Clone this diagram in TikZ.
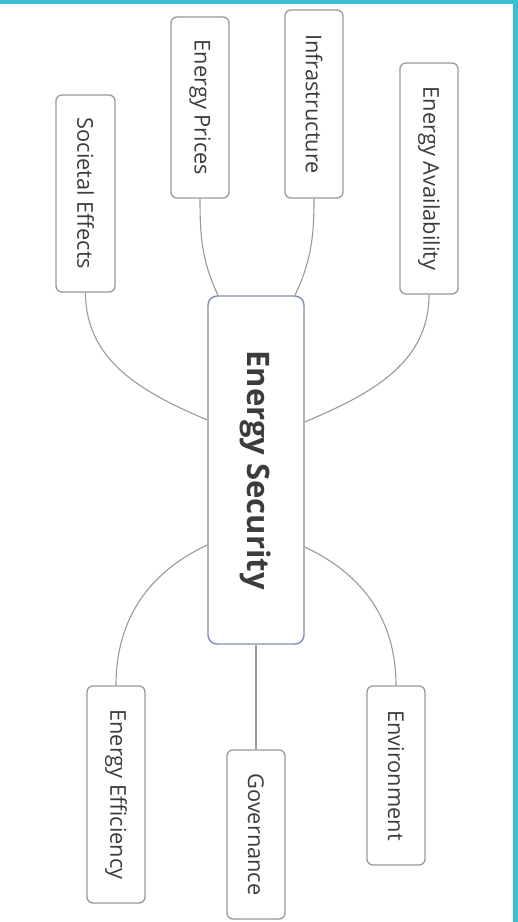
\documentclass[tikz,border=0pt]{standalone}
\usepackage{fontspec}
\setmainfont{Open Sans}
\usetikzlibrary{calc}
\definecolor{frame}{HTML}{3BBFD6}
\definecolor{leafline}{HTML}{9C9893}
\definecolor{hubline}{HTML}{7F8FB3}
\definecolor{wire}{HTML}{9A9A9A}
\definecolor{ink}{HTML}{3C3C3C}
\tikzset{
  leaf/.style={draw=leafline, line width=1.3pt, rounded corners=6pt, fill=white, inner sep=0pt, text=ink, font=\fontsize{21.8}{26}\selectfont},
  hub/.style={draw=hubline, line width=1.4pt, rounded corners=9pt, fill=white, inner sep=0pt, text=ink, font=\fontsize{31}{36}\selectfont\bfseries},
  wire/.style={draw=wire, line width=1.1pt}
}
\begin{document}
\begin{tikzpicture}[x=1pt,y=1pt]
\useasboundingbox (0,0) rectangle (518,922);
\fill[white] (0,0) rectangle (518,922);
\fill[frame] (0,918) rectangle (518,922);
\fill[frame] (513,0) rectangle (518,922);

\node[hub, minimum width=96pt, minimum height=348pt] (c) at (256,452) {\rotatebox{-90}{Energy Security}};

\node[leaf, minimum width=59pt, minimum height=197pt] (se) at (85.5,728.5) {\rotatebox{-90}{Societal Effects}};
\node[leaf, minimum width=58pt, minimum height=181pt] (ep) at (200,814.5) {\rotatebox{-90}{Energy Prices}};
\node[leaf, minimum width=58pt, minimum height=188pt] (inf) at (314,818) {\rotatebox{-90}{Infrastructure}};
\node[leaf, minimum width=58pt, minimum height=231pt] (ea) at (429,743.5) {\rotatebox{-90}{Energy Availability}};
\node[leaf, minimum width=58pt, minimum height=217pt] (ee) at (116,127.5) {\rotatebox{-90}{Energy Efficiency}};
\node[leaf, minimum width=58pt, minimum height=169pt] (gov) at (256,87.5) {\rotatebox{-90}{Governance}};
\node[leaf, minimum width=58pt, minimum height=179pt] (env) at (396,146.5) {\rotatebox{-90}{Environment}};

\draw[wire] (se.south) to[out=-90,in=157] ([yshift=50pt]c.west);
\draw[wire] (ep.south) to[out=-90,in=115] ([xshift=-38pt]c.north);
\draw[wire] (inf.south) to[out=-90,in=65] ([xshift=39pt]c.north);
\draw[wire] (ea.south) to[out=-90,in=23] ([yshift=48pt]c.east);
\draw[wire] (ee.north) to[out=90,in=205] ([yshift=-75pt]c.west);
\draw[wire] (env.north) to[out=90,in=-25] ([yshift=-77pt]c.east);
\draw[wire] (gov.north) -- (c.south);
\end{tikzpicture}
\end{document}
